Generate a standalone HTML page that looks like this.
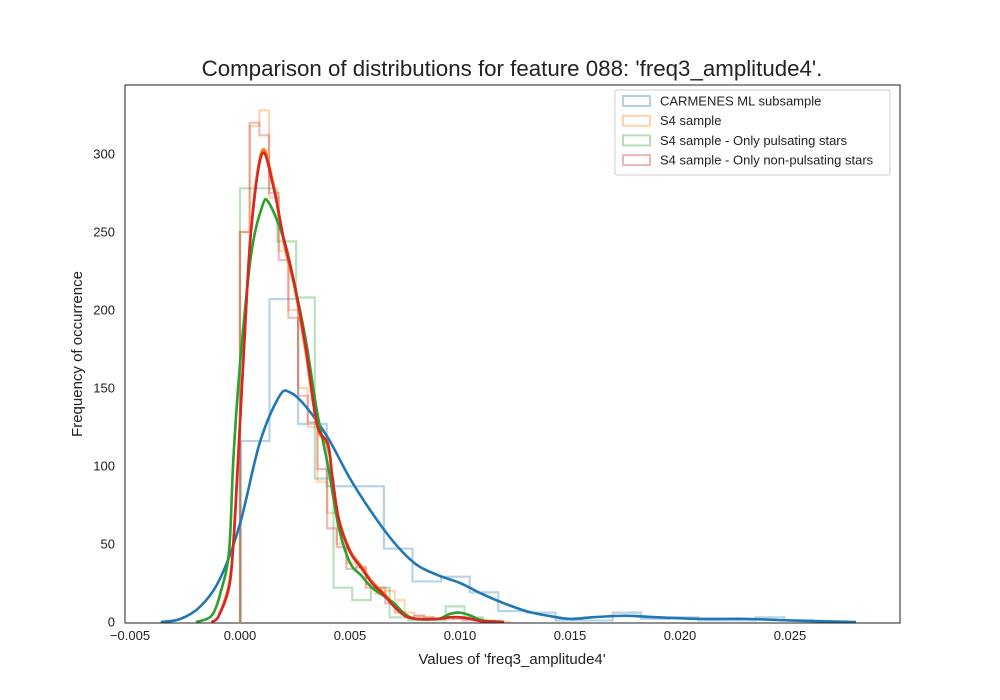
<!DOCTYPE html>
<html><head><meta charset="utf-8">
<style>
html,body{margin:0;padding:0;background:#fff;}
svg{display:block;font-family:"Liberation Sans",Arial,sans-serif;}
</style></head>
<body>
<svg id="chart" width="1000" height="700" viewBox="0 0 1000 700">
<rect x="0" y="0" width="1000" height="700" fill="#fff"/>
<text x="512" y="76" text-anchor="middle" font-size="22.3" fill="#222">Comparison of distributions for feature 088: 'freq3_amplitude4'.</text>
<text x="512" y="664" text-anchor="middle" font-size="15" fill="#222">Values of 'freq3_amplitude4'</text>
<text x="82" y="354" text-anchor="middle" font-size="15" fill="#222" transform="rotate(-90 82 354)">Frequency of occurrence</text>
<g id="plot"></g>
<rect x="125" y="85" width="775" height="538" fill="none" stroke="#222" stroke-width="1"/>
<g id="legend">
<rect x="615" y="90" width="275" height="85" fill="#fff" fill-opacity="0.8" stroke="#ccc" rx="2"/>
</g>
</svg>
<script>
const xTicks=[-0.005,0.000,0.005,0.010,0.015,0.020,0.025];
const xTickLabels=["\u22120.005","0.000","0.005","0.010","0.015","0.020","0.025"];
const yTicks=[0,50,100,150,200,250,300];
const seriesNames=["CARMENES ML subsample","S4 sample","S4 sample - Only pulsating stars","S4 sample - Only non-pulsating stars"];
const seriesColors=["#1f77b4","#ff7f0e","#2ca02c","#d62728"];
// histograms: start, bin width, heights
const blueHistStart=0.00004, blueHistWidth=0.0013;
const blueHist=[116,207,127,87,87,47,26,29,19,7,6,1,1,6,2,3,1,1,3,1];
const orangeHistStart=0, orangeHistWidth=0.00044;
const orangeHist=[250,318,328,272,238,200,150,125,90,70,50,38,35,24,18,20,14,6,4,3,2,2,3,2,2,1,1,0];
const greenHistStart=0, greenHistWidth=0.00085;
const greenHist=[278,278,244,208,92,22,14,22,3,1,1,10,3,0];
const redHistStart=0, redHistWidth=0.00044;
const redHist=[250,320,312,275,232,195,145,128,98,60,48,34,35,22,22,12,6,3,4,3,2,3,2,1,1,0];
// KDE curves
const blueKdeX=[-0.0036,-0.0027,-0.0018,-0.0009,0,0.0009,0.0018,0.0023,0.003,0.004,0.005,0.006,0.007,0.008,0.009,0.010,0.011,0.012,0.013,0.014,0.015,0.016,0.0175,0.019,0.021,0.023,0.025,0.028];
const blueKdeY=[0,2,10,28,63,115,145,147,138,118,92,70,51,37,30,25,18,12,7,4,2,3,4,3,2,2,1,0];
const orangeKdeX=[-0.0013,-0.001,-0.0005,-0.0003,-0.0001,0.0002,0.0005,0.001,0.0015,0.002,0.0025,0.003,0.0035,0.004,0.0042,0.0045,0.005,0.0055,0.006,0.0065,0.007,0.0075,0.008,0.009,0.0095,0.010,0.0105,0.011,0.012];
const orangeKdeY=[0,3,24,52,102,180,252,302,282,243,213,172,126,112,92,66,46,36,26,19,11,5,2,2,3,3,2,0.5,0];
const greenKdeX=[-0.002,-0.0015,-0.0012,-0.0009,-0.0005,-0.0003,0,0.0005,0.001,0.0013,0.002,0.0025,0.003,0.0035,0.004,0.0045,0.005,0.0055,0.006,0.0065,0.007,0.0075,0.008,0.009,0.0095,0.010,0.0105,0.011,0.012];
const greenKdeY=[0,2,6,18,45,105,165,235,266,269,245,215,180,135,100,60,38,30,22,17,12,5,2,2,5,6,4,1,0];
const redKdeX=[-0.0013,-0.001,-0.0005,-0.0003,-0.0001,0.0002,0.0005,0.001,0.0015,0.002,0.0025,0.003,0.0035,0.004,0.0042,0.0045,0.005,0.0055,0.006,0.0065,0.007,0.0075,0.008,0.009,0.0095,0.010,0.0105,0.011,0.012];
const redKdeY=[0,3,22,50,100,180,250,300,280,245,215,175,127,114,93,65,45,35,25,18,10,4,2,2,3,3,2,0.5,0];

const NS="http://www.w3.org/2000/svg";
const X=v=>240+v*22000;
const Y=v=>622-v*1.56;
const plot=document.getElementById('plot');
function mk(tag,attrs,parent){const e=document.createElementNS(NS,tag);for(const k in attrs)e.setAttribute(k,attrs[k]);(parent||plot).appendChild(e);return e;}

function histPath(start,w,h){
  let d="M"+X(start)+","+Y(0);
  for(let i=0;i<h.length;i++){d+=" L"+X(start+i*w)+","+Y(h[i])+" L"+X(start+(i+1)*w)+","+Y(h[i]);}
  d+=" L"+X(start+h.length*w)+","+Y(0);
  return d;
}
function smooth(xs,ys){
  const p=xs.map((x,i)=>[X(x),Y(ys[i])]);
  let d="M"+p[0][0]+","+p[0][1];
  for(let i=0;i<p.length-1;i++){
    const p0=p[Math.max(0,i-1)],p1=p[i],p2=p[i+1],p3=p[Math.min(p.length-1,i+2)];
    const c1=[p1[0]+(p2[0]-p0[0])/6,p1[1]+(p2[1]-p0[1])/6];
    const c2=[p2[0]-(p3[0]-p1[0])/6,p2[1]-(p3[1]-p1[1])/6];
    d+=" C"+c1[0]+","+Math.min(622,c1[1])+" "+c2[0]+","+Math.min(622,c2[1])+" "+p2[0]+","+p2[1];
  }
  return d;
}
// ticks
xTicks.forEach((t,i)=>{
  const tx=mk('text',{x:X(t),y:640,'text-anchor':'middle','font-size':13,fill:'#222'});
  tx.textContent=xTickLabels[i];
  
  
});
yTicks.forEach(t=>{
  const ty=mk('text',{x:115,y:Y(t)+4.5,'text-anchor':'end','font-size':13,fill:'#222'});
  ty.textContent=String(t);
  
  
});
const hists=[[blueHistStart,blueHistWidth,blueHist],[orangeHistStart,orangeHistWidth,orangeHist],[greenHistStart,greenHistWidth,greenHist],[redHistStart,redHistWidth,redHist]];
const histNames=['histogram-carmenes','histogram-s4','histogram-s4-pulsating','histogram-s4-non-pulsating'];
hists.forEach((h,i)=>{
  const p=mk('path',{d:histPath(h[0],h[1],h[2]),fill:'none',stroke:seriesColors[i],'stroke-opacity':0.32,'stroke-width':2.2});
  
  
});
const kdes=[[blueKdeX,blueKdeY],[orangeKdeX,orangeKdeY],[greenKdeX,greenKdeY],[redKdeX,redKdeY]];
const kdeNames=['kde-carmenes','kde-s4','kde-s4-pulsating','kde-s4-non-pulsating'];
kdes.forEach((k,i)=>{
  const p=mk('path',{d:smooth(k[0],k[1]),fill:'none',stroke:seriesColors[i],'stroke-width':2.6,'stroke-linejoin':'round'});
  
  
});
// legend
const lg=document.getElementById('legend');
seriesNames.forEach((n,i)=>{
  const y=101+i*19.7;
  const r=mk('rect',{x:623,y:y-5,width:27,height:10,fill:'none',stroke:seriesColors[i],'stroke-opacity':0.35,'stroke-width':2},lg);
  
  
  const t=mk('text',{x:660,y:y+4.5,'font-size':13,fill:'#222'},lg);
  t.textContent=n;
  
  
});
</script>
</body></html>
